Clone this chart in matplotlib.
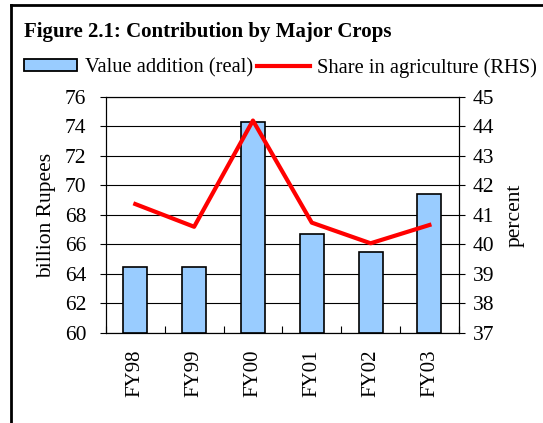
import numpy as np
import matplotlib.pyplot as plt
from matplotlib.lines import Line2D
from matplotlib.patches import Patch

plt.rcParams['font.family'] = ['Liberation Serif', 'DejaVu Serif']

years = ['FY98', 'FY99', 'FY00', 'FY01', 'FY02', 'FY03']
value_addition = [64.5, 64.5, 74.3, 66.7, 65.5, 69.4]   # billion Rupees
share_agri = [41.37, 40.6, 44.2, 40.74, 40.04, 40.66]   # percent (RHS)

fig = plt.figure(figsize=(5.43, 4.23), dpi=100)
ax = fig.add_axes([0.195, 0.2128, 0.650, 0.558])
x = np.arange(len(years))

ax.bar(x, [v - 60 for v in value_addition], bottom=60, width=0.41,
       color='#99ccff', edgecolor='black', linewidth=1.2, zorder=3)
ax.set_ylim(60, 76)
ax.set_xlim(-0.5, len(years) - 0.5)
ax.set_yticks(np.arange(60, 77, 2))
ax.yaxis.grid(True, color='black', linewidth=0.8, zorder=0)
ax.set_axisbelow(True)
ax.set_xticks(np.arange(-0.5, len(years), 1))
ax.set_xticklabels([])
ax.set_xticks(x, minor=True)
ax.set_xticklabels(years, minor=True, rotation=90, fontsize=15)
ax.tick_params(axis='x', which='minor', length=0, pad=12)
ax.tick_params(axis='x', which='major', length=5, direction='in')
ax.tick_params(axis='y', labelsize=15.5, length=4, direction='out', pad=10)
ax.set_ylabel('billion Rupees', fontsize=15.5, labelpad=6)
for s in ax.spines.values():
    s.set_linewidth(0.8)

ax2 = ax.twinx()
ax2.plot(x, share_agri, color='red', linewidth=3, zorder=4)
ax2.set_ylim(37, 45)
ax2.set_yticks(np.arange(37, 46, 1))
ax2.tick_params(axis='y', labelsize=15.5, length=4, direction='out', pad=6)
ax2.set_ylabel('percent', fontsize=15.5, labelpad=8)

fig.text(0.044, 0.925, 'Figure 2.1: Contribution by Major Crops',
         fontsize=15, fontweight='bold', va='center')

handles = [Patch(facecolor='#99ccff', edgecolor='black', linewidth=1.3),
           Line2D([0], [0], color='red', linewidth=3)]
fig.legend(handles, ['Value addition (real)', 'Share in agriculture (RHS)'],
           loc='center left', bbox_to_anchor=(0.044, 0.84), ncol=2,
           frameon=False, fontsize=14.8, handlelength=2.6, handletextpad=0.35,
           columnspacing=0.2, borderaxespad=0, borderpad=0, handleheight=0.5)

# outer frame of the figure panel
fig.add_artist(Line2D([0.021, 0.021], [0, 0.988], color='black', linewidth=2,
                      transform=fig.transFigure))
fig.add_artist(Line2D([0.021, 1.0], [0.988, 0.988], color='black', linewidth=2,
                      transform=fig.transFigure))

fig.savefig('out.png', dpi=100)
